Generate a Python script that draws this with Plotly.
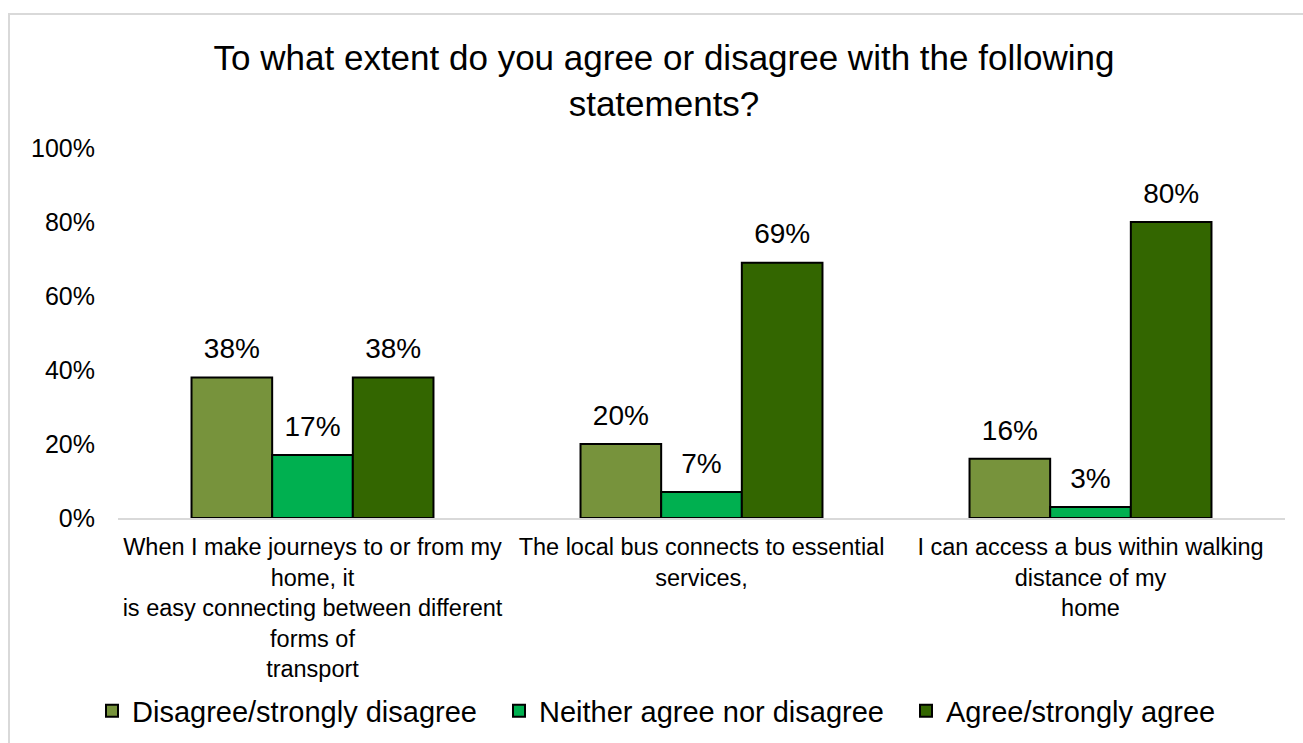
import plotly.graph_objects as go

# Survey statements (category labels, with the original line breaks)
categories = [
    "When I make journeys to or from my<br>home, it<br>is easy connecting between different<br>forms of<br>transport",
    "The local bus connects to essential<br>services,",
    "I can access a bus within walking<br>distance of my<br>home",
]

# Response shares in percent
disagree = [38, 20, 16]
neither = [17, 7, 3]
agree = [38, 69, 80]

series_names = ["Disagree/strongly disagree", "Neither agree nor disagree", "Agree/strongly agree"]
series_colors = ["#77933C", "#00B050", "#336600"]

y_tick_values = [0, 20, 40, 60, 80, 100]
y_tick_labels = ["0%", "20%", "40%", "60%", "80%", "100%"]

FONT = "Liberation Sans, Arial, sans-serif"


def value_label(v):
    # 28px label plus a small blank second line, which lifts the label a little off the bar
    return f"<span style='font-size:28px'>{v}%</span><br>&nbsp;"


fig = go.Figure()
for name, vals, color in zip(series_names, [disagree, neither, agree], series_colors):
    fig.add_trace(go.Bar(
        x=categories,
        y=vals,
        name=name,
        marker=dict(color=color, line=dict(color="#000000", width=2)),
        text=[value_label(v) for v in vals],
        textposition="outside",
        textfont=dict(size=11, color="#000000", family=FONT),
        constraintext="none",
        cliponaxis=False,
        hovertemplate="%{y}%<extra>" + name + "</extra>",
    ))

# Plot area geometry (pixels) used to place the outer frame and legend
W, H = 1303, 743
ML, MR, MT, MB = 118, 18, 148, 225
pw, ph = W - ML - MR, H - MT - MB


def px_x(x):
    return (x - ML) / pw


def px_y(y):
    return (H - MB - y) / ph


fig.add_shape(
    type="rect", xref="paper", yref="paper",
    x0=px_x(9), x1=px_x(1320), y0=px_y(14), y1=px_y(760),
    line=dict(color="#D9D9D9", width=2), fillcolor="rgba(0,0,0,0)", layer="below",
)

fig.update_layout(
    width=W, height=H,
    margin=dict(l=ML, r=MR, t=MT, b=MB, autoexpand=False),
    paper_bgcolor="white", plot_bgcolor="white",
    font=dict(family=FONT, color="#000000"),
    title=dict(
        text="To what extent do you agree or disagree with the following<br>statements?",
        x=664 / W, xanchor="center", xref="container",
        y=1 - 70 / H, yanchor="top", yref="container",
        font=dict(size=35, family=FONT, color="#000000"),
    ),
    barmode="group",
    bargap=0.378,
    bargroupgap=0,
    showlegend=True,
    legend=dict(
        orientation="h",
        x=px_x(92), xanchor="left", xref="paper",
        y=px_y(711), yanchor="middle", yref="paper",
        font=dict(size=29, family=FONT, color="#000000"),
        bgcolor="rgba(0,0,0,0)",
        itemwidth=30, traceorder="normal",
        entrywidth=362, entrywidthmode="pixels",
    ),
    xaxis=dict(
        showline=True, linecolor="#D9D9D9", linewidth=2,
        showgrid=False, ticks="", tickfont=dict(size=23.5, family=FONT, color="#000000"),
        tickangle=0, ticklabelstandoff=7, automargin=False,
    ),
    yaxis=dict(
        range=[0, 100], tickvals=y_tick_values, ticktext=y_tick_labels,
        showgrid=False, showline=False, zeroline=False, ticks="",
        tickfont=dict(size=25, family=FONT, color="#000000"),
        ticklabelstandoff=22, automargin=False,
    ),
)

fig.write_html("out.html")
